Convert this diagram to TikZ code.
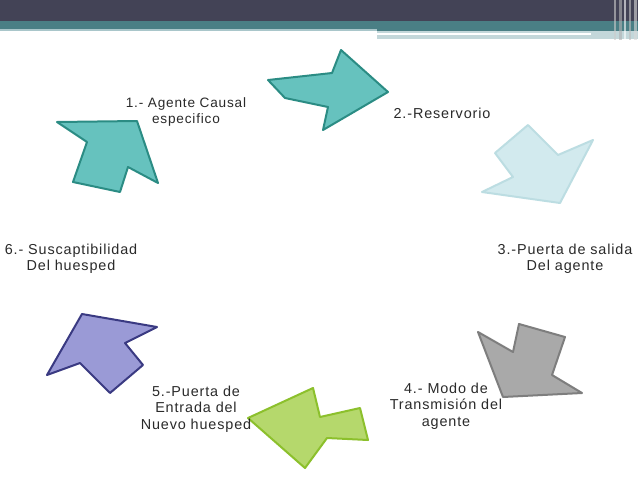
\documentclass[tikz,border=0pt]{standalone}
\usepackage{fontspec}
\setmainfont{Liberation Sans}[LetterSpace=6]

\definecolor{hdark}{HTML}{434356}
\definecolor{hteal}{HTML}{4A7F85}
\definecolor{hlight}{HTML}{A9C6CA}
\definecolor{txtgray}{HTML}{2A2A2A}
\definecolor{tealfill}{HTML}{66C2BE}
\definecolor{tealline}{HTML}{2B8C84}
\definecolor{icefill}{HTML}{D2EAEE}
\definecolor{iceline}{HTML}{BCDDE2}
\definecolor{grayfill}{HTML}{A9A9A9}
\definecolor{grayline}{HTML}{7E7E7E}
\definecolor{limefill}{HTML}{B5D86C}
\definecolor{limeline}{HTML}{8CC02C}
\definecolor{violetfill}{HTML}{9A9AD6}
\definecolor{violetline}{HTML}{3A3A82}

\begin{document}
\begin{tikzpicture}[
                x = 0.75pt, y = -0.75pt, % one unit per pixel
                line join = round,
                semithick % line style
            ]

            \tikzstyle{every node}=[text = txtgray, align = center,
            inner sep = 0pt, font = \fontsize{10.8}{12.3}\selectfont]
            \tikzstyle{cyclearrow}=[line width = 1.5pt]

            \useasboundingbox (0,0) rectangle (638,479);
            \fill[white] (0,0) rectangle (638,479);

            % header bars
            \fill[hdark] (0,0) rectangle (638,21);
            \fill[hteal] (0,21) rectangle (638,29);
            \fill[hlight] (0,29) rectangle (377,31);
            \fill[hteal] (377,29) rectangle (638,31);
            \fill[hlight!70] (377,31) rectangle (638,39);
            \fill[white] (377,33) rectangle (591,35);
            \foreach \x/\w/\c in {614/2/gray!40, 619/3/gray!60, 624/2/white,
                                  629/2/gray!50, 634/3/gray!30}
                \fill[\c, opacity = 0.6] (\x,0) rectangle ++(\w,40);

            % cycle arrows
            \draw[cyclearrow, fill = tealfill, draw = tealline] (57,122) --
            (137,121) -- (158,183) -- (128,167) -- (120,192) -- (73,182) --
            (87,142) -- cycle;
            \draw[cyclearrow, fill = tealfill, draw = tealline] (268,80) --
            (332,73) -- (341,50) -- (388,92) -- (323,130) -- (328,107) --
            (285,98) -- cycle;
            \draw[cyclearrow, fill = icefill, draw = iceline] (528,125) --
            (558,155) -- (593,140) -- (560,203) -- (482,192) -- (513,177) --
            (495,153) -- cycle;
            \draw[cyclearrow, fill = grayfill, draw = grayline] (478,332) --
            (513,352) -- (519,324) -- (565,337) -- (552,375) -- (582,393) --
            (503,397) -- cycle;
            \draw[cyclearrow, fill = limefill, draw = limeline] (248,418) --
            (313,388) -- (320,417) -- (360,408) -- (368,440) -- (327,438) --
            (305,468) -- cycle;
            \draw[cyclearrow, fill = violetfill, draw = violetline] (82,314) --
            (157,327) -- (125,343) -- (143,365) -- (110,393) -- (80,363) --
            (47,375) -- cycle;

            % labels
            \node (agente) [font = \fontsize{10.2}{12.6}\selectfont] at (186,112)
            {1.- Agente Causal\\especifico};
            \node (reservorio) at (442,113) {2.-Reservorio};
            \node (salida) at (565,259) {3.-Puerta de salida\\Del agente};
            \node (modo) at (446,406) {4.- Modo de\\Transmisión del\\agente};
            \node (entrada) at (196,409) {5.-Puerta de\\Entrada del\\Nuevo huesped};
            \node (huesped) at (71,259) {6.- Suscaptibilidad\\Del huesped};

        \end{tikzpicture}
\end{document}
